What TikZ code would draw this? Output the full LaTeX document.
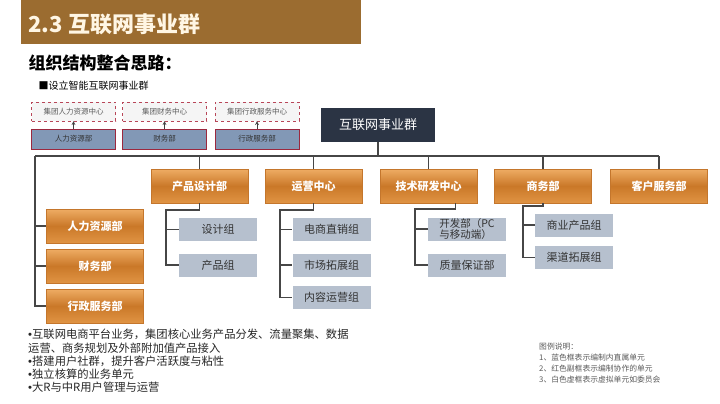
\documentclass[tikz,border=0pt]{standalone}
\usepackage{fontspec}
\setmainfont{Noto Sans CJK SC}
\newfontfamily\latinfont{Liberation Sans}
\usepackage{tikz}
\usetikzlibrary{arrows,positioning,calc}

\definecolor{titlebrown}{RGB}{155,108,48}
\definecolor{titlecream}{RGB}{255,246,228}
\definecolor{navy}{RGB}{43,52,68}
\definecolor{orangetop}{RGB}{238,172,100}
\definecolor{orangemid}{RGB}{202,120,40}
\definecolor{orangebot}{RGB}{224,148,68}
\definecolor{orangeline}{RGB}{196,118,44}
\definecolor{slate}{RGB}{182,192,206}
\definecolor{bluebox}{RGB}{130,152,182}
\definecolor{redline}{RGB}{156,40,62}
\definecolor{dashred}{RGB}{184,70,88}
\definecolor{linkgray}{RGB}{70,70,70}
\definecolor{textgray}{RGB}{90,90,90}

\newcommand{\bulletdot}{{\latinfont\textbullet}}

\begin{document}
\begin{tikzpicture}[
    x=1pt, y=-1pt,
    dashbox/.style={rectangle, draw=dashred, dashed, fill=black!4, minimum width=84pt, minimum height=19pt, inner sep=0pt, font=\fontsize{7.5}{9}\selectfont, text=textgray},
    bluebox/.style={rectangle, draw=redline, fill=bluebox, minimum width=84pt, minimum height=20pt, inner sep=0pt, font=\fontsize{7.5}{9}\selectfont, text=black!80},
    topbox/.style={rectangle, fill=navy, minimum width=114pt, minimum height=34pt, inner sep=0pt, font=\fontsize{13}{15}\selectfont, text=white},
    deptbox/.style={rectangle, draw=orangeline, top color=orangetop, bottom color=orangebot, middle color=orangemid, minimum width=97pt, minimum height=34pt, inner sep=0pt, font=\fontsize{11}{13}\selectfont\bfseries, text=white},
    groupbox/.style={rectangle, fill=slate, minimum width=78pt, minimum height=23pt, inner sep=0pt, font=\fontsize{11}{13}\selectfont, text=black!80},
    link/.style={draw=linkgray, line width=1.1pt},
    uparrow/.style={->, >=stealth, draw=black!75, line width=0.7pt}
]
\useasboundingbox (0,0) rectangle (720,404);

% Title
\fill[titlebrown] (21,0) rectangle (361,44);
\node[anchor=west, font=\fontsize{22}{26}\selectfont\bfseries, text=titlecream] (title) at (25,24) {2.3 互联网事业群};
\node[anchor=west, font=\fontsize{17}{20}\selectfont\bfseries] (sub) at (25,63) {组织结构整合思路：};
\node[anchor=west, font=\fontsize{10}{12}\selectfont] (note) at (35,86) {■设立智能互联网事业群};

% Group centres and their units
\node[dashbox] (v1) at (73.5,111.5) {集团人力资源中心};
\node[dashbox] (v2) at (164.5,111.5) {集团财务中心};
\node[dashbox] (v3) at (257,111.5) {集团行政服务中心};
\node[bluebox] (b1) at (73.5,139) {人力资源部};
\node[bluebox] (b2) at (164.5,139) {财务部};
\node[bluebox] (b3) at (257,139) {行政服务部};
\draw[uparrow] (b1) -- (v1);
\draw[uparrow] (b2) -- (v2);
\draw[uparrow] (b3) -- (v3);

% Top
\node[topbox] (top) at (378,125) {互联网事业群};

% Departments
\node[deptbox] (d1) at (199.5,186) {产品设计部};
\node[deptbox] (d2) at (313.5,186) {运营中心};
\node[deptbox] (d3) at (428.5,186) {技术研发中心};
\node[deptbox] (d4) at (543,186) {商务部};
\node[deptbox] (d5) at (659,186) {客户服务部};
\node[deptbox] (hr) at (95,226) {人力资源部};
\node[deptbox] (fin) at (95,266) {财务部};
\node[deptbox] (adm) at (95,306) {行政服务部};

% Groups
\node[groupbox] (g11) at (218,229.5) {设计组};
\node[groupbox] (g12) at (218,265) {产品组};
\node[groupbox] (g21) at (331.5,229.5) {电商直销组};
\node[groupbox] (g22) at (331.5,265) {市场拓展组};
\node[groupbox] (g23) at (331.5,297.5) {内容运营组};
\node[groupbox, font=\fontsize{10.5}{11.5}\selectfont, align=left] (g31) at (467,229) {开发部（PC\\与移动端）};
\node[groupbox] (g32) at (467,265) {质量保证部};
\node[groupbox] (g41) at (574,225) {商业产品组};
\node[groupbox] (g42) at (574,257.5) {渠道拓展组};

% Bus
\coordinate (busL) at (35,156);
\coordinate (busR) at (659,156);
\draw[link] (top.south) -- (top.south |- busL);
\draw[link] (busL) -- (busR);
\foreach \d in {d1,d2,d3,d4,d5}
  \draw[link] (\d.north |- busL) -- (\d.north);
\draw[link] (busL) |- (adm.west);
\draw[link] (busL |- hr.west) -- (hr.west);
\draw[link] (busL |- fin.west) -- (fin.west);

% Branches to groups
\coordinate (s1) at (166,210);
\coordinate (s2) at (280,210);
\coordinate (s3) at (415,209);
\coordinate (s4) at (523,206);
\draw[link] (d1.south) |- (s1) |- (g12.west);
\draw[link] (s1 |- g11.west) -- (g11.west);
\draw[link] (d2.south) |- (s2) |- (g23.west);
\draw[link] (s2 |- g21.west) -- (g21.west);
\draw[link] (s2 |- g22.west) -- (g22.west);
\draw[link] ([xshift=27pt]d3.south) |- (s3) |- (g32.west);
\draw[link] (s3 |- g31.west) -- (g31.west);
\draw[link] (d4.south) |- (s4) |- (g42.west);
\draw[link] (s4 |- g41.west) -- (g41.west);

% Notes
\node[anchor=north west, align=left, inner sep=0pt, font=\fontsize{11.3}{13.3}\selectfont, text=black!85] (points) at (28,329) {%
\bulletdot 互联网电商平台业务，集团核心业务产品分发、流量聚集、数据\\
运营、商务规划及外部附加值产品接入\\
\bulletdot 搭建用户社群，提升客户活跃度与粘性\\
\bulletdot 独立核算的业务单元\\
\bulletdot 大R与中R用户管理与运营};

\node[anchor=north west, align=left, inner sep=0pt, font=\fontsize{7.8}{11}\selectfont, text=textgray] (legend) at (539,343) {%
图例说明：\\
1、蓝色框表示编制内直属单元\\
2、红色副框表示编制协作的单元\\
3、白色虚框表示虚拟单元如委员会};

\end{tikzpicture}
\end{document}
